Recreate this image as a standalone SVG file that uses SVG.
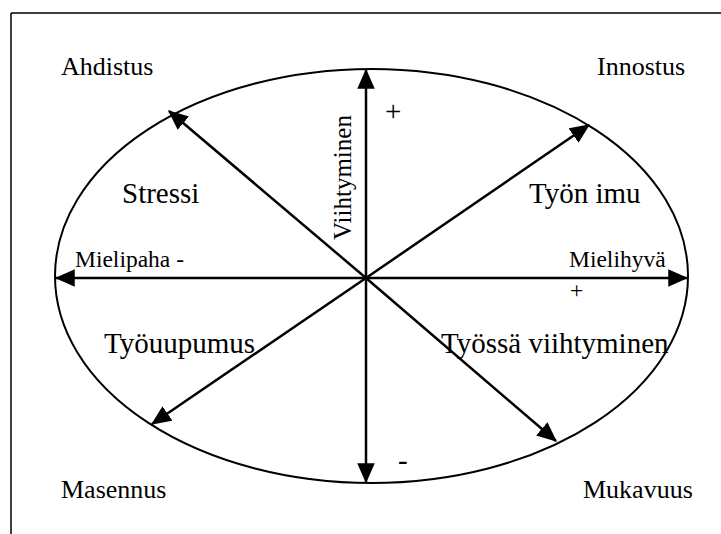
<svg xmlns="http://www.w3.org/2000/svg" width="721" height="534" viewBox="0 0 721 534">
<style>
text{font-family:'Liberation Serif','Times New Roman',Times,'DejaVu Serif',serif;fill:#000}
.corner{font-size:26px}
.big{font-size:29px}
.mid{font-size:23.5px}
.ax{stroke:#000;stroke-width:2.5;fill:none;marker-end:url(#ah)}
</style>
<defs>
<marker id="ah" markerWidth="8" markerHeight="7" refX="7.5" refY="3.5" orient="auto" markerUnits="strokeWidth">
<path d="M0,0 L8,3.5 L0,7 z" fill="#000"/>
</marker>
</defs>
<rect width="721" height="534" fill="#fff"/>
<g id="frame">
<path d="M11,13 H721 M11,13 V534" stroke="#000" stroke-width="1.5" fill="none"/>
</g>
<g id="ellipse">
<ellipse cx="371.5" cy="276" rx="316.5" ry="207" fill="none" stroke="#000" stroke-width="2"/>
</g>
<g id="connectors">
<line class="ax" x1="366" y1="278" x2="366" y2="70"/>
<line class="ax" x1="366" y1="278" x2="366" y2="482"/>
<line class="ax" x1="366" y1="278" x2="56" y2="278"/>
<line class="ax" x1="366" y1="278" x2="687" y2="278"/>
<line class="ax" x1="366" y1="278" x2="169" y2="111"/>
<line class="ax" x1="366" y1="278" x2="589" y2="125"/>
<line class="ax" x1="366" y1="278" x2="152" y2="424"/>
<line class="ax" x1="366" y1="278" x2="556" y2="441"/>
</g>
<g id="ahdistus"><text class="corner" x="61" y="75">Ahdistus</text></g>
<g id="innostus"><text class="corner" x="597" y="75">Innostus</text></g>
<g id="masennus"><text class="corner" x="61" y="498">Masennus</text></g>
<g id="mukavuus"><text class="corner" x="583" y="498">Mukavuus</text></g>
<g id="stressi"><text class="big" x="122" y="203">Stressi</text></g>
<g id="tyon-imu"><text class="big" x="529" y="203">Työn imu</text></g>
<g id="tyouupumus"><text class="big" x="104" y="353" font-size="28">Työuupumus</text></g>
<g id="tyossa-viihtyminen"><text class="big" x="441" y="353">Työssä viihtyminen</text></g>
<g id="mielipaha"><text class="mid" x="75" y="267">Mielipaha -</text></g>
<g id="mielihyva"><text class="mid" x="569" y="267">Mielihyvä</text><text class="mid" x="570" y="298">+</text></g>
<g id="viihtyminen"><text font-size="25" transform="translate(351,240) rotate(-90)">Viihtyminen</text></g>
<g id="plus"><text class="big" x="385" y="121">+</text></g>
<g id="minus"><text class="big" x="398" y="470">-</text></g>
</svg>
